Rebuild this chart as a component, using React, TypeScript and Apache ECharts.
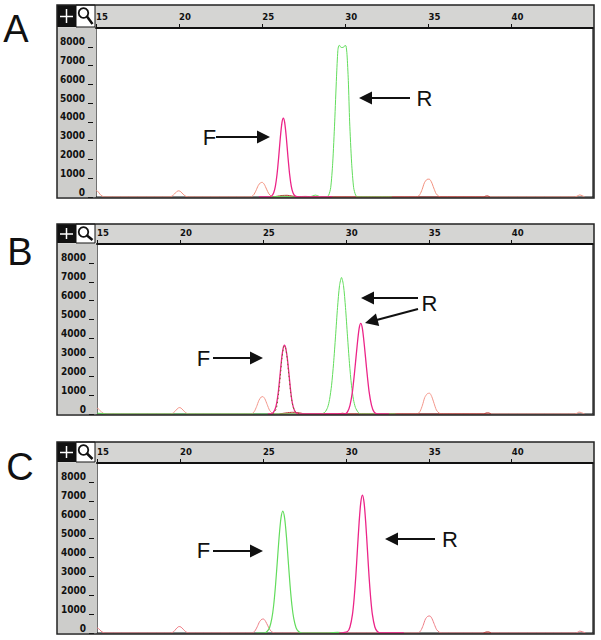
import React, { useEffect, useRef } from "react";
import * as echarts from "echarts";

type Pt = [number, number];

// ---- axis ranges / ticks ----
const X_MIN = 15;
const X_MAX = 44.9;
const X_STEP = 5;
const X_TICKS = [15, 20, 25, 30, 35, 40];
const Y_MIN = 0;
const Y_MAX = 9000;
const Y_STEP = 1000;
const Y_TICKS = [0, 1000, 2000, 3000, 4000, 5000, 6000, 7000, 8000];

// ---- panel A ----
const aOrange: Pt[] = [
  [15.0, 340], [15.08, 320], [15.18, 220], [15.3, 90], [15.45, 15], [15.6, 0],
  [19.4, 0], [19.58, 50], [19.72, 160], [19.86, 290], [19.98, 330], [20.1, 280], [20.24, 150], [20.38, 50], [20.55, 0],
  [24.3, 0], [24.48, 110], [24.62, 330], [24.76, 610], [24.9, 760], [25.0, 780], [25.12, 680], [25.26, 420], [25.4, 170], [25.55, 40], [25.7, 0],
  [34.3, 0], [34.48, 130], [34.62, 400], [34.76, 760], [34.92, 940], [35.05, 950], [35.18, 800], [35.32, 480], [35.46, 180], [35.62, 40], [35.8, 0],
  [43.8, 0], [43.95, 50], [44.1, 110], [44.25, 70], [44.4, 0],
];
const aDarkRed: Pt[] = [
  [25.6, 0], [25.9, 40], [26.2, 80], [26.5, 90], [26.8, 50], [27.1, 20], [27.6, 30], [28.2, 10], [28.8, 0],
  [38.3, 0], [38.45, 50], [38.55, 60], [38.7, 0],
];
const aGreen: Pt[] = [
  [25.5, 0], [26.3, 40], [26.8, 0], [27.8, 0], [28.05, 60], [28.2, 100], [28.35, 60], [28.55, 0], [28.85, 0],
  [29.0, 100], [29.12, 500], [29.24, 1800], [29.36, 4000], [29.47, 6400], [29.55, 7800], [29.6, 8050], [29.66, 8070],
  [29.72, 7980], [29.8, 7960], [29.9, 7980], [29.98, 8070], [30.04, 8050], [30.1, 7600], [30.18, 6200], [30.26, 4000],
  [30.38, 1800], [30.5, 500], [30.62, 100], [30.75, 0], [32.8, 0],
];
const aPink: Pt[] = [
  [24.8, 0], [25.4, 0], [25.57, 60], [25.69, 230], [25.79, 570], [25.89, 1200], [25.99, 2120], [26.09, 3170], [26.19, 3970],
  [26.27, 4200], [26.35, 3970], [26.45, 3170], [26.55, 2120], [26.65, 1200], [26.75, 570], [26.85, 230], [26.97, 60], [27.2, 0], [29.2, 0],
];

// ---- panel B ----
const bOrange: Pt[] = [
  [15.0, 300], [15.08, 280], [15.18, 190], [15.3, 80], [15.45, 10], [15.6, 0],
  [19.45, 0], [19.62, 70], [19.76, 200], [19.9, 320], [20.0, 340], [20.12, 270], [20.26, 140], [20.4, 40], [20.55, 0],
  [24.3, 0], [24.48, 130], [24.62, 390], [24.76, 720], [24.9, 900], [25.0, 920], [25.12, 800], [25.26, 500], [25.4, 200], [25.55, 50], [25.7, 0],
  [34.3, 0], [34.48, 150], [34.62, 470], [34.76, 880], [34.92, 1080], [35.05, 1100], [35.18, 920], [35.32, 560], [35.46, 210], [35.62, 50], [35.8, 0],
  [43.8, 0], [43.95, 50], [44.05, 100], [44.2, 70], [44.4, 0],
];
const bDarkRed: Pt[] = [
  [26.0, 0], [26.4, 60], [26.8, 90], [27.2, 60], [27.6, 0], [29.5, 0], [29.8, 40], [30.1, 0],
  [38.3, 0], [38.45, 50], [38.6, 60], [38.75, 0],
];
const bGreen: Pt[] = [
  [15.0, 40], [15.3, 30], [15.6, 0], [16.0, 0], [28.5, 0],
  [28.74, 95], [28.9, 340], [29.02, 770], [29.14, 1520], [29.26, 2670], [29.38, 4120], [29.5, 5640], [29.62, 6800],
  [29.74, 7230], [29.86, 6800], [29.98, 5640], [30.1, 4120], [30.22, 2670], [30.34, 1520], [30.46, 770], [30.58, 340],
  [30.74, 95], [30.9, 0], [33.0, 0],
];
const bPink: Pt[] = [
  [25.3, 0], [25.5, 0], [25.62, 70], [25.74, 260], [25.84, 620], [25.94, 1240], [26.04, 2120], [26.14, 3000], [26.22, 3480],
  [26.3, 3650], [26.38, 3480], [26.48, 2900], [26.58, 2050], [26.68, 1180], [26.78, 560], [26.9, 200], [27.05, 40], [27.3, 0],
  [29.95, 0], [30.1, 110], [30.25, 460], [30.4, 1200], [30.55, 2420], [30.68, 3600], [30.8, 4520], [30.9, 4800],
  [31.0, 4520], [31.12, 3600], [31.25, 2420], [31.4, 1200], [31.55, 460], [31.7, 110], [31.9, 0], [32.6, 0],
];
const bGreenF: Pt[] = [
  [25.6, 0], [25.8, 250], [25.95, 1100], [26.05, 2000], [26.15, 2950], [26.23, 3450], [26.3, 3600], [26.38, 3450],
  [26.47, 2900], [26.57, 2000], [26.68, 1100], [26.8, 450], [26.95, 120], [27.2, 0],
];

// ---- panel C ----
const cOrange: Pt[] = [
  [15.0, 260], [15.08, 240], [15.18, 160], [15.3, 60], [15.45, 10], [15.6, 0],
  [19.45, 0], [19.62, 70], [19.76, 210], [19.9, 330], [20.0, 340], [20.12, 270], [20.26, 140], [20.4, 40], [20.55, 0],
  [24.35, 0], [24.52, 110], [24.66, 330], [24.8, 600], [24.94, 730], [25.04, 740], [25.16, 620], [25.3, 380], [25.44, 150], [25.6, 30], [25.75, 0],
  [34.35, 0], [34.52, 130], [34.66, 400], [34.8, 740], [34.95, 890], [35.07, 900], [35.2, 750], [35.34, 450], [35.48, 170], [35.64, 40], [35.8, 0],
  [43.85, 0], [44.0, 50], [44.1, 100], [44.25, 70], [44.45, 0],
];
const cDarkRed: Pt[] = [
  [38.3, 0], [38.45, 50], [38.6, 60], [38.75, 0],
];
const cGreen: Pt[] = [
  [24.6, 0], [25.1, 0], [25.25, 80], [25.4, 280], [25.54, 770], [25.65, 1470], [25.76, 2510], [25.87, 3790], [25.98, 5100],
  [26.09, 6080], [26.2, 6450], [26.31, 6080], [26.42, 5100], [26.53, 3790], [26.64, 2510], [26.75, 1470], [26.86, 770],
  [27.0, 280], [27.15, 80], [27.35, 0], [29.0, 0], [29.5, 30], [30.0, 0],
];
const cPink: Pt[] = [
  [29.6, 0], [30.1, 80], [30.25, 320], [30.4, 990], [30.5, 1830], [30.6, 2990], [30.7, 4430], [30.8, 5840], [30.9, 6900],
  [31.0, 7300], [31.1, 6900], [31.2, 5840], [31.3, 4430], [31.4, 2990], [31.5, 1830], [31.6, 990], [31.75, 320], [31.9, 80],
  [32.1, 0], [33.5, 0],
];

// ---- styling ----
const GREEN = "#62dc5c";
const PINK = "#ec2488";
const DARKRED = "#b8322e";
const NARROW = '"Liberation Sans Narrow", "DejaVu Sans Condensed", "Liberation Sans", sans-serif';
const SANS = '"Liberation Sans", Arial, sans-serif';

type Trace = { data: Pt[]; color: string; width?: number; dash?: number[] };

const FRAME_LEFT = 57;
const FRAME_RIGHT = 594;
const PLOT_RIGHT = 593;

const panels = [
  {
    letter: "A", letterX: 16, letterY: 29,
    frameTop: 5, plotTop: 28, plotBottom: 197, plotLeft: 96,
    traces: [
      { data: aOrange, color: "#f2907e" },
      { data: aDarkRed, color: DARKRED },
      { data: aGreen, color: GREEN },
      { data: aPink, color: PINK, width: 1.3 },
    ] as Trace[],
    fText: [209.5, 137], fArrow: [[216, 137], [270, 137]],
    rText: [424.5, 98.5], rArrows: [[[410, 98], [359, 98]]],
  },
  {
    letter: "B", letterX: 20, letterY: 252,
    frameTop: 224, plotTop: 244, plotBottom: 414, plotLeft: 97,
    traces: [
      { data: bOrange, color: "#f3968a" },
      { data: bDarkRed, color: DARKRED },
      { data: bGreen, color: GREEN },
      { data: bPink, color: PINK, width: 1.3 },
      { data: bGreenF, color: "#7a6a2a", width: 1, dash: [1.5, 2.5] },
    ] as Trace[],
    fText: [203.5, 358], fArrow: [[213, 358], [263, 358]],
    rText: [429.5, 303.5], rArrows: [[[418, 298], [361, 298]], [[418, 309], [365, 323]]],
  },
  {
    letter: "C", letterX: 20, letterY: 467,
    frameTop: 442, plotTop: 463, plotBottom: 633, plotLeft: 97,
    traces: [
      { data: cOrange, color: "#ee7e86" },
      { data: cDarkRed, color: DARKRED },
      { data: cGreen, color: GREEN, width: 1.2 },
      { data: cPink, color: PINK, width: 1.3 },
    ] as Trace[],
    fText: [203.5, 550], fArrow: [[213, 551], [263, 551]],
    rText: [450, 539], rArrows: [[[435, 539], [385, 539]]],
  },
];

function arrow(tail: number[], tip: number[]) {
  const dx = tip[0] - tail[0];
  const dy = tip[1] - tail[1];
  const len = Math.sqrt(dx * dx + dy * dy);
  const ux = dx / len;
  const uy = dy / len;
  const hl = 13;
  const hw = 6.5;
  const bx = tip[0] - ux * hl;
  const by = tip[1] - uy * hl;
  const nx = -uy;
  const ny = ux;
  return [
    {
      type: "line", z: 60,
      shape: { x1: tail[0], y1: tail[1], x2: bx + ux * 1, y2: by + uy * 1 },
      style: { stroke: "#111", lineWidth: 2 },
    },
    {
      type: "polygon", z: 60,
      shape: { points: [[tip[0], tip[1]], [bx + nx * hw, by + ny * hw], [bx - nx * hw, by - ny * hw]] },
      style: { fill: "#111" },
    },
  ];
}

function panelGraphics(p: any) {
  const top = p.frameTop;
  const rulerH = p.plotTop - top;
  const els: any[] = [
    { type: "rect", z: 0, shape: { x: FRAME_LEFT, y: top, width: FRAME_RIGHT - FRAME_LEFT, height: rulerH }, style: { fill: "#d5d5d3" } },
    { type: "rect", z: 0, shape: { x: FRAME_LEFT, y: p.plotTop, width: p.plotLeft - FRAME_LEFT, height: p.plotBottom - p.plotTop }, style: { fill: "#cdcdcb" } },
    { type: "rect", z: 20, shape: { x: FRAME_LEFT, y: top, width: 19, height: rulerH - 1 }, style: { fill: "#111" } },
    { type: "line", z: 21, shape: { x1: FRAME_LEFT + 3, y1: top + rulerH / 2, x2: FRAME_LEFT + 16, y2: top + rulerH / 2 }, style: { stroke: "#fff", lineWidth: 1.5 } },
    { type: "line", z: 21, shape: { x1: FRAME_LEFT + 9.5, y1: top + 4, x2: FRAME_LEFT + 9.5, y2: top + rulerH - 5 }, style: { stroke: "#fff", lineWidth: 1.5 } },
    { type: "rect", z: 20, shape: { x: 76, y: top, width: 19, height: rulerH - 1 }, style: { fill: "#fff", stroke: "#111", lineWidth: 1 } },
    { type: "circle", z: 21, shape: { cx: 83.5, cy: top + 8, r: 4.8 }, style: { fill: "none", stroke: "#111", lineWidth: 1.8 } },
    { type: "line", z: 21, shape: { x1: 87, y1: top + 11.5, x2: 92.5, y2: top + rulerH - 4 }, style: { stroke: "#111", lineWidth: 2.5 } },
    { type: "rect", z: 50, shape: { x: FRAME_LEFT, y: top, width: FRAME_RIGHT - FRAME_LEFT, height: p.plotBottom - top + 1 }, style: { fill: "none", stroke: "#222", lineWidth: 1.5 } },
    { type: "text", z: 60, x: p.letterX, y: p.letterY, style: { text: p.letter, fill: "#111", font: `38px ${SANS}`, align: "center", verticalAlign: "middle" } },
    { type: "text", z: 60, x: p.fText[0], y: p.fText[1], style: { text: "F", fill: "#111", font: `22px ${SANS}`, align: "center", verticalAlign: "middle" } },
    { type: "text", z: 60, x: p.rText[0], y: p.rText[1], style: { text: "R", fill: "#111", font: `22px ${SANS}`, align: "center", verticalAlign: "middle" } },
    ...arrow(p.fArrow[0], p.fArrow[1]),
  ];
  p.rArrows.forEach((a: number[][]) => els.push(...arrow(a[0], a[1])));
  return els;
}

export default function App() {
  const ref = useRef<HTMLDivElement>(null);
  useEffect(() => {
    if (!ref.current) return;
    const chart = echarts.init(ref.current, undefined, { renderer: "svg" });
    const labelStyle = { color: "#111", fontSize: 10, fontWeight: "bold" as const, fontFamily: NARROW };
    const option: any = {
      animation: false,
      backgroundColor: "#fff",
      grid: panels.map((p) => ({
        left: p.plotLeft, top: p.plotTop, width: PLOT_RIGHT - p.plotLeft, height: p.plotBottom - p.plotTop,
        show: true, backgroundColor: "#fff", borderColor: "#111", borderWidth: 1.2,
      })),
      xAxis: panels.map((p, i) => ({
        type: "value", gridIndex: i, position: "top", min: X_MIN, max: X_MAX, interval: X_STEP, z: 10,
        axisLine: { show: true, onZero: false, lineStyle: { color: "#111", width: 2 } },
        axisTick: { show: true, length: 4, lineStyle: { color: "#111", width: 1 } },
        splitLine: { show: false },
        axisLabel: {
          ...labelStyle, fontSize: 9.5, showMaxLabel: false, showMinLabel: true, align: "left", verticalAlign: "bottom", margin: 7,
          formatter: (v: number) => (X_TICKS.includes(v) ? String(v) : ""),
        },
      })),
      yAxis: panels.map((p, i) => ({
        type: "value", gridIndex: i, min: Y_MIN, max: Y_MAX, interval: Y_STEP, offset: 3, z: 10,
        axisLine: { show: false },
        axisTick: { show: true, length: 5, lineStyle: { color: "#111", width: 1 } },
        splitLine: { show: false },
        axisLabel: {
          ...labelStyle, showMaxLabel: false, verticalAlign: "bottom", margin: 8,
          formatter: (v: number) => (Y_TICKS.includes(v) ? String(v) : ""),
        },
      })),
      series: panels.flatMap((p, i) =>
        p.traces.map((t, k) => ({
          type: "line", xAxisIndex: i, yAxisIndex: i, data: t.data, showSymbol: false, symbol: "none",
          smooth: 0.25, silent: true, z: 2 + k, clip: true,
          lineStyle: { color: t.color, width: t.width ?? 1, type: t.dash ?? "solid" },
        }))
      ),
      graphic: { elements: panels.flatMap((p) => panelGraphics(p)) },
    };
    chart.setOption(option);
    return () => chart.dispose();
  }, []);
  return (
    <div
      ref={ref}
      style={{ position: "fixed", left: 0, top: 0, width: 601, height: 640, background: "#fff" }}
    />
  );
}
